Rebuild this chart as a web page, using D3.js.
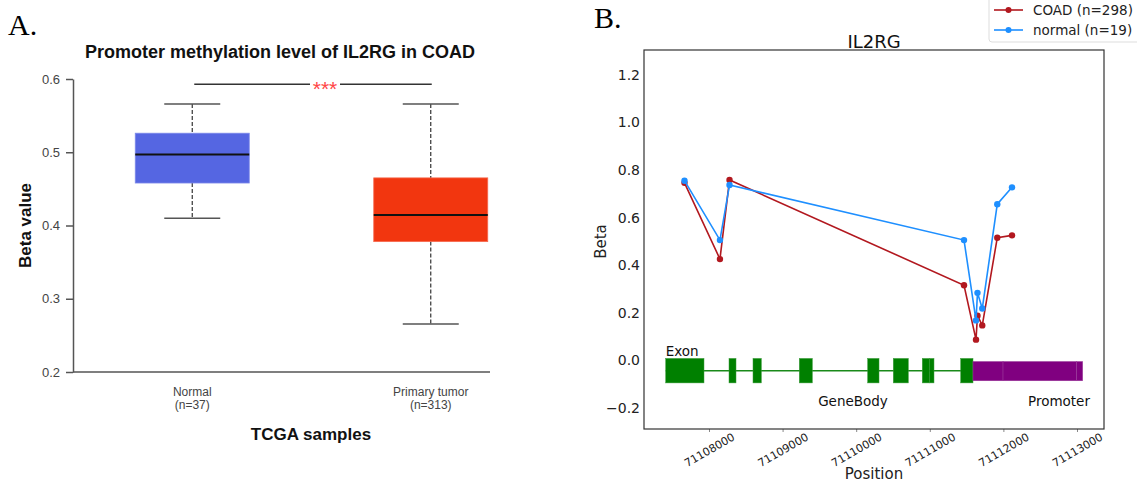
<!DOCTYPE html>
<html>
<head>
<meta charset="utf-8">
<script src="https://cdn.jsdelivr.net/npm/d3@7"></script>
<style>
  body { margin: 0; background: #fff; }
  svg { display: block; }
</style>
</head>
<body>
<div id="chart"></div>
<script>
// ---- panel A : box plot data ----
const groups = ["Normal", "Primary tumor"];
const groupN = ["(n=37)", "(n=313)"];
const whiskerLow = [0.410, 0.2655];
const q1 = [0.458, 0.378];
const median = [0.497, 0.4145];
const q3 = [0.526, 0.465];
const whiskerHigh = [0.566, 0.566];
const boxTicks = [0.2, 0.3, 0.4, 0.5, 0.6];
const sigLevel = 0.593;
const sigLabel = "***";

// ---- panel B : methylation along the gene ----
const probePos = [71107667, 71108149, 71108279, 71111465, 71111628, 71111648, 71111713, 71111917, 71112117];
const coadBeta = [0.746, 0.425, 0.758, 0.315, 0.086, 0.187, 0.146, 0.515, 0.525];
const normalBeta = [0.755, 0.505, 0.737, 0.505, 0.167, 0.283, 0.217, 0.656, 0.727];
const exonStart = [71107412, 71108272, 71108598, 71109227, 71110156, 71110504, 71110898, 71110993, 71111420];
const exonEnd = [71107932, 71108367, 71108711, 71109404, 71110310, 71110708, 71110993, 71111057, 71111587];
const promoterStart = [71111587, 71111995, 71112996];
const promoterEnd = [71111995, 71112996, 71113077];
const posTicks = [71108000, 71109000, 71110000, 71111000, 71112000, 71113000];
const betaTicks = [-0.2, 0, 0.2, 0.4, 0.6, 0.8, 1.0, 1.2];
const seriesNames = ["COAD (n=298)", "normal (n=19)"];

const width = 1137, height = 482;

const svg = d3.select("#chart")
  .append("svg")
  .attr("width", width)
  .attr("height", height);

// ================= panel A =================
const sansA = "'Liberation Sans', Arial, sans-serif";
const a = { left: 73, right: 550, top: 79, bottom: 372 };

let yA = d3.scaleLinear()
  .domain([0.2, 0.6])
  .range([a.bottom, a.top]);

let xA = d3.scalePoint()
  .domain(groups)
  .range([a.left, a.right])
  .padding(0.5);

const boxW = 114;
const capW = 56;
const boxFill = ["#5566e2", "#f2360f"];
const boxEdge = ["#7d8aea", "#f66a50"];

svg.append("text")
  .attr("x", 8).attr("y", 35)
  .attr("font-family", "'Liberation Serif', 'Times New Roman', serif")
  .attr("font-size", 30)
  .text("A.");

svg.append("text")
  .attr("x", 280).attr("y", 58)
  .attr("text-anchor", "middle")
  .attr("font-family", sansA)
  .attr("font-weight", "bold")
  .attr("font-size", 18)
  .attr("fill", "#111")
  .text("Promoter methylation level of IL2RG in COAD");

// y axis
const yAxisA = svg.append("g")
  .attr("transform", `translate(${a.left},0)`)
  .call(d3.axisLeft(yA).tickValues(boxTicks).tickFormat(d3.format(".1f")).tickSize(7).tickPadding(6).tickSizeOuter(0));
yAxisA.select(".domain").attr("stroke", "#555").attr("stroke-width", 1.5);
yAxisA.selectAll(".tick line").attr("stroke", "#555").attr("stroke-width", 1.5);
yAxisA.selectAll(".tick text")
  .attr("font-family", sansA).attr("font-size", 13).attr("fill", "#444");

// x axis line
svg.append("line")
  .attr("x1", a.left).attr("x2", 490)
  .attr("y1", a.bottom).attr("y2", a.bottom)
  .attr("stroke", "#555").attr("stroke-width", 1.5);

svg.append("text")
  .attr("transform", `translate(31,${(a.top + a.bottom) / 2}) rotate(-90)`)
  .attr("text-anchor", "middle")
  .attr("font-family", sansA)
  .attr("font-weight", "bold")
  .attr("font-size", 17)
  .attr("fill", "#111")
  .text("Beta value");

const boxes = svg.append("g")
  .selectAll("g")
  .data(groups)
  .join("g");

// whiskers (dashed)
boxes.append("line")
  .attr("x1", d => xA(d)).attr("x2", d => xA(d))
  .attr("y1", (d, i) => yA(whiskerHigh[i])).attr("y2", (d, i) => yA(q3[i]))
  .attr("stroke", "#333").attr("stroke-width", 1.2).attr("stroke-dasharray", "4,2");
boxes.append("line")
  .attr("x1", d => xA(d)).attr("x2", d => xA(d))
  .attr("y1", (d, i) => yA(q1[i])).attr("y2", (d, i) => yA(whiskerLow[i]))
  .attr("stroke", "#333").attr("stroke-width", 1.2).attr("stroke-dasharray", "4,2");
// caps
boxes.append("line")
  .attr("x1", d => xA(d) - capW / 2).attr("x2", d => xA(d) + capW / 2)
  .attr("y1", (d, i) => yA(whiskerHigh[i])).attr("y2", (d, i) => yA(whiskerHigh[i]))
  .attr("stroke", "#555").attr("stroke-width", 1.5);
boxes.append("line")
  .attr("x1", d => xA(d) - capW / 2).attr("x2", d => xA(d) + capW / 2)
  .attr("y1", (d, i) => yA(whiskerLow[i])).attr("y2", (d, i) => yA(whiskerLow[i]))
  .attr("stroke", "#555").attr("stroke-width", 1.5);
// box
boxes.append("rect")
  .attr("x", d => xA(d) - boxW / 2)
  .attr("width", boxW)
  .attr("y", (d, i) => yA(q3[i]))
  .attr("height", (d, i) => yA(q1[i]) - yA(q3[i]))
  .attr("fill", (d, i) => boxFill[i])
  .attr("stroke", (d, i) => boxEdge[i]).attr("stroke-width", 0.8);
// median
boxes.append("line")
  .attr("x1", d => xA(d) - boxW / 2).attr("x2", d => xA(d) + boxW / 2)
  .attr("y1", (d, i) => yA(median[i])).attr("y2", (d, i) => yA(median[i]))
  .attr("stroke", "#111").attr("stroke-width", 2);

// category labels
boxes.append("text")
  .attr("x", d => xA(d)).attr("y", 396)
  .attr("text-anchor", "middle")
  .attr("font-family", sansA).attr("font-size", 12).attr("fill", "#444")
  .text(d => d);
boxes.append("text")
  .attr("x", d => xA(d)).attr("y", 409)
  .attr("text-anchor", "middle")
  .attr("font-family", sansA).attr("font-size", 12).attr("fill", "#444")
  .text((d, i) => groupN[i]);

svg.append("text")
  .attr("x", 311).attr("y", 440)
  .attr("text-anchor", "middle")
  .attr("font-family", sansA)
  .attr("font-weight", "bold")
  .attr("font-size", 17)
  .attr("fill", "#111")
  .text("TCGA samples");

// significance bar
const sigMid = (xA(groups[0]) + xA(groups[1])) / 2 + (capW / 2 - 1) / 2;
svg.append("line")
  .attr("x1", xA(groups[0]) + 2).attr("x2", sigMid - 15)
  .attr("y1", yA(sigLevel)).attr("y2", yA(sigLevel))
  .attr("stroke", "#333").attr("stroke-width", 1.5);
svg.append("line")
  .attr("x1", sigMid + 15).attr("x2", xA(groups[1]) + 1)
  .attr("y1", yA(sigLevel)).attr("y2", yA(sigLevel))
  .attr("stroke", "#333").attr("stroke-width", 1.5);
svg.append("text")
  .attr("x", sigMid).attr("y", yA(sigLevel) + 12)
  .attr("text-anchor", "middle")
  .attr("font-family", sansA).attr("font-size", 21).attr("fill", "#ff4646")
  .text(sigLabel);

// ================= panel B =================
const sansB = "'DejaVu Sans', Verdana, sans-serif";
const b = { left: 644, right: 1104, top: 50, bottom: 429 };

let xB = d3.scaleLinear()
  .domain([71107117, 71113367])
  .range([b.left, b.right]);

let yB = d3.scaleLinear()
  .domain([-0.29, 1.305])
  .range([b.bottom, b.top]);

svg.append("text")
  .attr("x", 594).attr("y", 28)
  .attr("font-family", "'Liberation Serif', 'Times New Roman', serif")
  .attr("font-size", 30)
  .text("B.");

svg.append("text")
  .attr("x", (b.left + b.right) / 2).attr("y", 48)
  .attr("text-anchor", "middle")
  .attr("font-family", sansB).attr("font-size", 18).attr("fill", "#111")
  .text("IL2RG");

// y axis labels (no tick marks)
const yAxisB = svg.append("g")
  .attr("transform", `translate(${b.left},0)`)
  .call(d3.axisLeft(yB).tickValues(betaTicks).tickFormat(d3.format(".1f")).tickSize(0).tickPadding(4));
yAxisB.select(".domain").remove();
yAxisB.selectAll(".tick text")
  .attr("font-family", sansB).attr("font-size", 14).attr("fill", "#222");

// x axis with rotated labels
const xAxisB = svg.append("g")
  .attr("transform", `translate(0,${b.bottom})`)
  .call(d3.axisBottom(xB).tickValues(posTicks).tickFormat(d3.format("d")).tickSize(3).tickSizeOuter(0));
xAxisB.select(".domain").remove();
xAxisB.selectAll(".tick line").attr("stroke", "#888");
xAxisB.selectAll(".tick text")
  .attr("y", 0).attr("dy", "0.35em")
  .attr("transform", "translate(0,21) rotate(-30)")
  .attr("text-anchor", "middle")
  .attr("font-family", sansB).attr("font-size", 11).attr("fill", "#222");

svg.append("text")
  .attr("transform", `translate(601,${(b.top + b.bottom) / 2 + 2}) rotate(-90)`)
  .attr("text-anchor", "middle")
  .attr("dominant-baseline", "central")
  .attr("font-family", sansB).attr("font-size", 15).attr("fill", "#222")
  .text("Beta");

svg.append("text")
  .attr("x", (b.left + b.right) / 2).attr("y", 479)
  .attr("text-anchor", "middle")
  .attr("font-family", sansB).attr("font-size", 15).attr("fill", "#222")
  .text("Position");

// gene body line
const geneG = svg.append("g");
geneG.append("line")
  .attr("x1", xB(d3.min(exonStart))).attr("x2", xB(d3.max(exonEnd)))
  .attr("y1", yB(-0.045)).attr("y2", yB(-0.045))
  .attr("stroke", "#1a8a1a").attr("stroke-width", 1.5);

geneG.selectAll(".exon")
  .data(exonStart)
  .join("rect")
  .attr("class", "exon")
  .attr("x", d => xB(d))
  .attr("width", (d, i) => xB(exonEnd[i]) - xB(d))
  .attr("y", yB(0.007))
  .attr("height", yB(-0.096) - yB(0.007))
  .attr("fill", "#008000")
  .attr("stroke", "#3a9a3a").attr("stroke-width", 0.5);

geneG.selectAll(".prom")
  .data(promoterStart)
  .join("rect")
  .attr("class", "prom")
  .attr("x", d => xB(d))
  .attr("width", (d, i) => xB(promoterEnd[i]) - xB(d))
  .attr("y", yB(-0.006))
  .attr("height", yB(-0.087) - yB(-0.006))
  .attr("fill", "#800080")
  .attr("stroke", "#9a3a9a").attr("stroke-width", 0.5);

geneG.append("text")
  .attr("x", xB(d3.min(exonStart))).attr("y", 356)
  .attr("font-family", sansB).attr("font-size", 13.5).attr("fill", "#111")
  .text("Exon");
geneG.append("text")
  .attr("x", 853).attr("y", 406)
  .attr("text-anchor", "middle")
  .attr("font-family", sansB).attr("font-size", 13.5).attr("fill", "#111")
  .text("GeneBody");
geneG.append("text")
  .attr("x", 1059).attr("y", 406)
  .attr("text-anchor", "middle")
  .attr("font-family", sansB).attr("font-size", 13.5).attr("fill", "#111")
  .text("Promoter");

// methylation lines
const series = [
  { name: seriesNames[0], values: coadBeta, color: "#b2181f" },
  { name: seriesNames[1], values: normalBeta, color: "#1e8fff" }
];

const line = d3.line()
  .x(d => xB(d[0]))
  .y(d => yB(d[1]));

series.forEach(s => {
  const pts = probePos.map((p, i) => [p, s.values[i]]);
  svg.append("path")
    .datum(pts)
    .attr("fill", "none")
    .attr("stroke", s.color)
    .attr("stroke-width", 1.6)
    .attr("d", line);
  svg.append("g")
    .selectAll("circle")
    .data(pts)
    .join("circle")
    .attr("cx", d => xB(d[0]))
    .attr("cy", d => yB(d[1]))
    .attr("r", 3.2)
    .attr("fill", s.color);
});

// frame
svg.append("rect")
  .attr("x", b.left).attr("y", b.top)
  .attr("width", b.right - b.left).attr("height", b.bottom - b.top)
  .attr("fill", "none").attr("stroke", "#333").attr("stroke-width", 1.2);

// legend
const leg = svg.append("g");
leg.append("rect")
  .attr("x", 989).attr("y", -6)
  .attr("width", 160).attr("height", 48)
  .attr("rx", 3)
  .attr("fill", "#fff").attr("stroke", "#ddd");
const legItems = leg.selectAll(".item")
  .data(series)
  .join("g")
  .attr("class", "item")
  .attr("transform", (d, i) => `translate(994,${10 + i * 20})`);
legItems.append("line")
  .attr("x1", 0).attr("x2", 29)
  .attr("stroke", d => d.color).attr("stroke-width", 1.6);
legItems.append("circle")
  .attr("cx", 14.5).attr("r", 3)
  .attr("fill", d => d.color);
legItems.append("text")
  .attr("x", 39)
  .attr("dominant-baseline", "central")
  .attr("font-family", sansB).attr("font-size", 13.5).attr("fill", "#222")
  .text(d => d.name);
</script>
</body>
</html>
